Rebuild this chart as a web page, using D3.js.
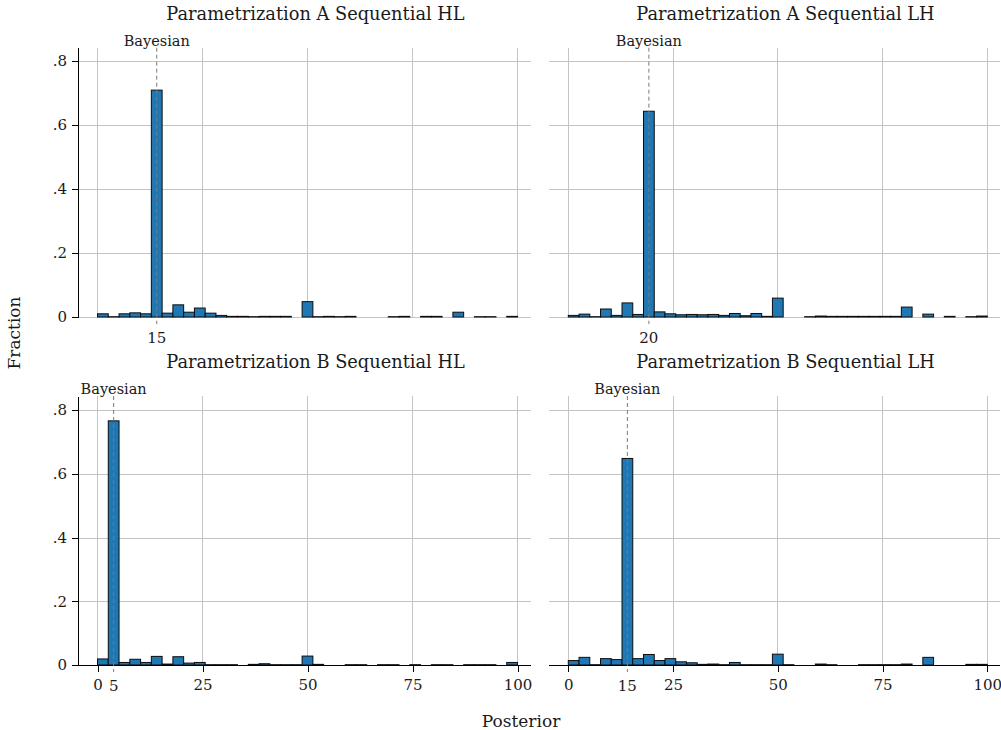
<!DOCTYPE html>
<html lang="en">
<head>
  <meta charset="UTF-8">
  <title>Posterior histograms</title>
  <style>
    body { margin: 0; background: #fff; }
    svg text { font-family: "DejaVu Serif", serif; fill: #1a1a1a; }
    .axis path, .axis line { stroke: #000; shape-rendering: crispEdges; }
    .grid line { stroke: #c4c4c4; shape-rendering: crispEdges; }
  </style>
</head>
<body>
  <svg id="chart" width="1001" height="730"></svg>
  <script src="https://cdn.jsdelivr.net/npm/d3@7"></script>
  <script>
    // histogram fractions, 39 equal bins on 0..100
    var fracAHL = [0.010, 0.001, 0.010, 0.013, 0.010, 0.709, 0.012, 0.038, 0.015, 0.028,
                   0.012, 0.005, 0.002, 0.002, 0.001, 0.002, 0.002, 0.002, 0.000, 0.048,
                   0.001, 0.002, 0.001, 0.002, 0.000, 0.000, 0.000, 0.001, 0.002, 0.000,
                   0.002, 0.002, 0.000, 0.015, 0.000, 0.001, 0.001, 0.000, 0.002];
    var fracALH = [0.005, 0.009, 0.001, 0.025, 0.005, 0.044, 0.008, 0.643, 0.016, 0.010,
                   0.007, 0.008, 0.007, 0.008, 0.005, 0.011, 0.004, 0.011, 0.002, 0.059,
                   0.000, 0.000, 0.001, 0.003, 0.002, 0.002, 0.002, 0.002, 0.002, 0.002,
                   0.002, 0.031, 0.000, 0.009, 0.000, 0.002, 0.000, 0.001, 0.003];
    var fracBHL = [0.019, 0.766, 0.008, 0.018, 0.008, 0.027, 0.003, 0.026, 0.006, 0.008,
                   0.001, 0.001, 0.001, 0.000, 0.002, 0.004, 0.001, 0.001, 0.001, 0.028,
                   0.002, 0.000, 0.000, 0.001, 0.001, 0.000, 0.001, 0.001, 0.000, 0.001,
                   0.000, 0.001, 0.001, 0.000, 0.001, 0.001, 0.001, 0.000, 0.008];
    var fracBLH = [0.014, 0.024, 0.001, 0.020, 0.017, 0.648, 0.020, 0.033, 0.014, 0.020,
                   0.010, 0.007, 0.002, 0.003, 0.001, 0.008, 0.001, 0.001, 0.001, 0.034,
                   0.001, 0.000, 0.000, 0.003, 0.001, 0.000, 0.000, 0.001, 0.001, 0.001,
                   0.001, 0.003, 0.000, 0.024, 0.000, 0.000, 0.000, 0.002, 0.002];

    var titles = ["Parametrization A Sequential HL", "Parametrization A Sequential LH",
                  "Parametrization B Sequential HL", "Parametrization B Sequential LH"];
    var bayesBin = [5, 7, 1, 5];          // bin holding the Bayesian posterior
    var bayesLabel = ["15", "20", "5", "15"];
    var xTicks = [0, 25, 50, 75, 100];
    var yTicks = [0, 0.2, 0.4, 0.6, 0.8];
    var nBins = 39, xMax = 100;

    var svg = d3.select("#chart");

    // column / row geometry (frame = gridline extent, plot = 0..100)
    var cols = [{f0: 78, f1: 531, p0: 97.5, p1: 517.5, tx: 315.5},
                {f0: 549, f1: 1000, p0: 568.3, p1: 987.3, tx: 785.5}];
    var rows = [{y0: 317, y8: 61, top: 47.7, ty: 20, xaxis: false},
                {y0: 665, y8: 410, top: 396, ty: 368, xaxis: true}];

    var panels = [
      {data: fracAHL, c: 0, r: 0},
      {data: fracALH, c: 1, r: 0},
      {data: fracBHL, c: 0, r: 1},
      {data: fracBLH, c: 1, r: 1}
    ];

    var fmtY = function (d) { return d === 0 ? "0" : d3.format(".1f")(d).replace(/^0/, ""); };
    var binW = xMax / nBins;

    panels.forEach(function (p, i) {
      var col = cols[p.c], row = rows[p.r];
      var x = d3.scaleLinear().domain([0, xMax]).range([col.p0, col.p1]);
      var y = d3.scaleLinear().domain([0, 0.8]).range([row.y0, row.y8]);
      var yTopVal = y.invert(row.top);
      var g = svg.append("g");

      // gridlines
      var grid = g.append("g").attr("class", "grid");
      grid.selectAll(".h").data(yTicks).enter().append("line")
        .attr("x1", col.f0).attr("x2", col.f1)
        .attr("y1", function (d) { return Math.round(y(d)) + 0.5; })
        .attr("y2", function (d) { return Math.round(y(d)) + 0.5; });
      grid.selectAll(".v").data(xTicks).enter().append("line")
        .attr("x1", function (d) { return x(d); }).attr("x2", function (d) { return x(d); })
        .attr("y1", row.top).attr("y2", row.y0);

      // bars
      var bars = p.data.map(function (v, k) { return {k: k, v: v}; })
        .filter(function (d) { return d.v > 0; });
      g.selectAll("rect").data(bars).enter().append("rect")
        .attr("x", function (d) { return x(d.k * binW); })
        .attr("width", function (d) { return x((d.k + 1) * binW) - x(d.k * binW); })
        .attr("y", function (d) { return y(d.v); })
        .attr("height", function (d) { return y(0) - y(d.v); })
        .attr("fill", "#1f77b4")
        .attr("stroke", "#0d0d0d")
        .attr("stroke-width", 1);

      // y axis only on the left column
      if (p.c === 0) {
        var ya = d3.scaleLinear().domain([0, yTopVal]).range([row.y0, row.top]);
        var yAxis = d3.axisLeft(ya).tickValues(yTicks).tickFormat(fmtY)
          .tickSize(6).tickPadding(5).tickSizeOuter(0);
        var ay = g.append("g").attr("class", "axis")
          .attr("transform", "translate(" + col.f0 + ",0)")
          .call(yAxis);
        ay.selectAll("text").style("font-size", "15px");
      }

      // x axis only on the bottom row
      if (row.xaxis) {
        var xAxis = d3.axisBottom(x).tickValues(xTicks).tickSize(7).tickPadding(7).tickSizeOuter(0);
        var ax = g.append("g").attr("class", "axis")
          .attr("transform", "translate(0," + row.y0 + ")")
          .call(xAxis);
        ax.select(".domain").remove();
        ax.selectAll("text").style("font-size", "15px");
        g.append("line")
          .attr("x1", col.f0).attr("x2", col.f1)
          .attr("y1", row.y0 + 0.5).attr("y2", row.y0 + 0.5)
          .attr("stroke", "#000");
      }
      var labY = row.y0 + 26;

      // Bayesian marker
      var bx = x((bayesBin[i] + 0.5) * binW);
      g.append("line")
        .attr("x1", bx).attr("x2", bx)
        .attr("y1", row.top).attr("y2", row.y0 + 7)
        .attr("stroke", "#7a7a7a").attr("stroke-width", 1)
        .attr("stroke-dasharray", "4,3");
      g.append("text").attr("x", bx).attr("y", row.top - 2)
        .attr("text-anchor", "middle").style("font-size", "14.5px")
        .text("Bayesian");
      g.append("text").attr("x", bx).attr("y", labY)
        .attr("text-anchor", "middle").style("font-size", "15px")
        .text(bayesLabel[i]);

      // panel title
      g.append("text").attr("x", col.tx).attr("y", row.ty)
        .attr("text-anchor", "middle").style("font-size", "17.8px")
        .text(titles[i]);
    });

    svg.append("text").attr("transform", "translate(20,333) rotate(-90)")
      .attr("text-anchor", "middle").style("font-size", "17px").text("Fraction");
    svg.append("text").attr("x", 521).attr("y", 727)
      .attr("text-anchor", "middle").style("font-size", "17px").text("Posterior");
  </script>
</body>
</html>
